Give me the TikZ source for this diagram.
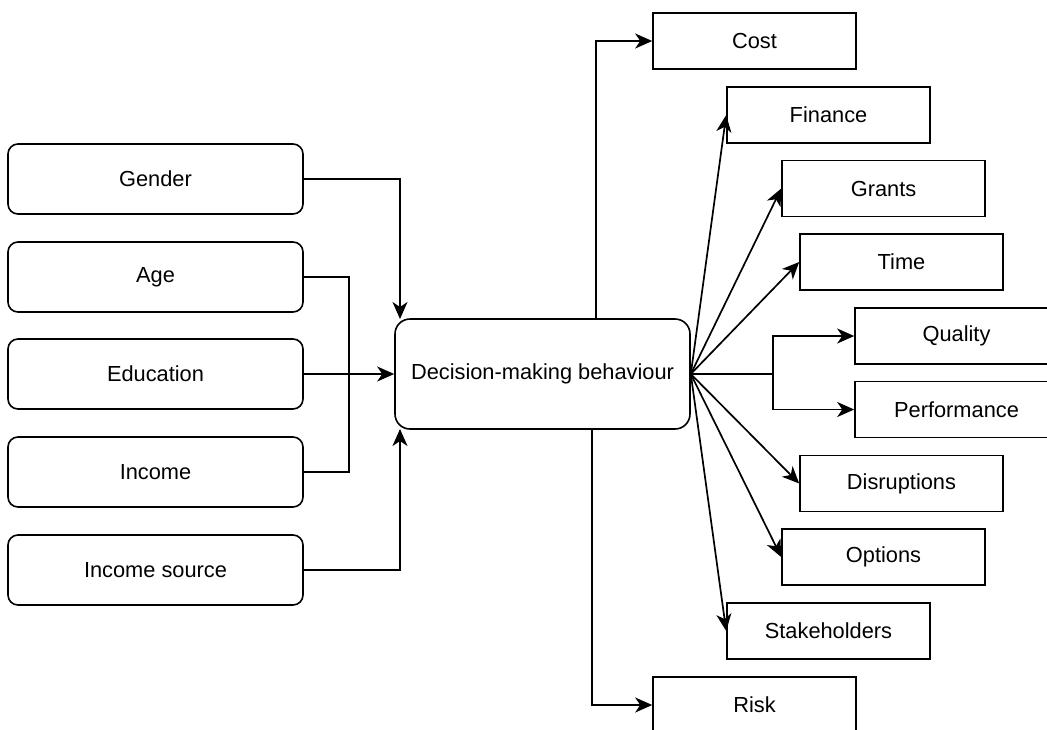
\documentclass[tikz,border=0pt]{standalone}
\usepackage{fontspec}
\setmainfont{Liberation Sans}
\usetikzlibrary{arrows.meta}
\begin{document}
\begin{tikzpicture}[x=1pt,y=-1pt,
  every node/.style={font=\fontsize{21.8}{26}\selectfont},
  leftbox/.style={draw,line width=1.6pt,rounded corners=10pt,minimum width=295pt,minimum height=70pt,inner sep=0pt},
  mainbox/.style={draw,line width=1.6pt,rounded corners=15pt,minimum width=295pt,minimum height=110pt,inner sep=0pt},
  rightbox/.style={draw,line width=1.6pt,minimum width=203pt,minimum height=56pt,inner sep=0pt},
  conn/.style={line width=1.7pt},
  arr/.style={conn,-{Stealth[length=17pt,width=15pt,inset=5pt]}}]
\clip (0,0) rectangle (1047,729);
% left boxes
\node[leftbox] (gen) at (155.5,179) {Gender};
\node[leftbox] (age) at (155.5,277) {Age};
\node[leftbox] (edu) at (155.5,374) {Education};
\node[leftbox] (inc) at (155.5,472) {Income};
\node[leftbox] (src) at (155.5,570) {Income source};
% main
\node[mainbox] (dm) at (542.5,374) {Decision-making behaviour};
% right boxes
\node[rightbox] (cost) at (754.5,41) {Cost};
\node[rightbox] (fin) at (828.5,115) {Finance};
\node[rightbox] (gra) at (883.5,188.5) {Grants};
\node[rightbox] (tim) at (901.5,262) {Time};
\node[rightbox] (qua) at (956.5,336) {Quality};
\node[rightbox] (per) at (956.5,409.5) {Performance};
\node[rightbox] (dis) at (901.5,483.5) {Disruptions};
\node[rightbox] (opt) at (883.5,557) {Options};
\node[rightbox] (stk) at (828.5,631) {Stakeholders};
\node[rightbox] (risk) at (754.5,705) {Risk};
% coordinates
\coordinate (gtop) at (400,319);
\coordinate (sbot) at (400,429);
\coordinate (jl) at (349,374);
\coordinate (ct) at (596,319);
\coordinate (cb) at (592,429);
\coordinate (fk) at (773,374);
% left connectors
\draw[arr] (gen.east) -| (gtop);
\draw[conn] (age.east) -| (jl);
\draw[conn] (inc.east) -| (jl);
\draw[arr] (edu.east) -- (dm.west);
\draw[arr] (src.east) -| (sbot);
% right connectors
\draw[arr] (ct) |- (cost.west);
\draw[arr] (cb) |- (risk.west);
\draw[conn] (dm.east) -- (fk);
\draw[arr] (fk) |- (qua.west);
\draw[arr] (fk) |- (per.west);
\draw[arr] (dm.east) -- (fin.west);
\draw[arr] (dm.east) -- (gra.west);
\draw[arr] (dm.east) -- (tim.west);
\draw[arr] (dm.east) -- (dis.west);
\draw[arr] (dm.east) -- (opt.west);
\draw[arr] (dm.east) -- (stk.west);
\end{tikzpicture}
\end{document}
